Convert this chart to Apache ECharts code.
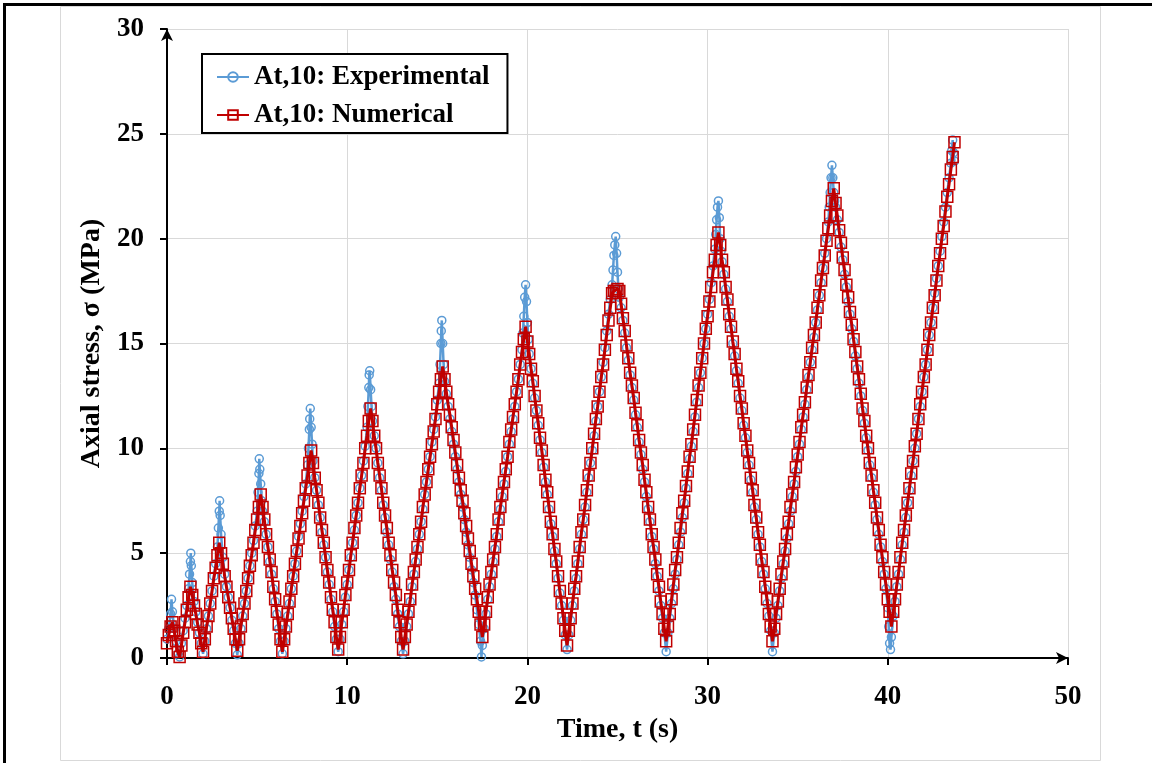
<!DOCTYPE html>
<html>
<head>
<meta charset="utf-8">
<script src="https://cdn.jsdelivr.net/npm/echarts@6/dist/echarts.min.js"></script>
<style>
html,body{margin:0;padding:0;background:#fff;}
#c{width:1152px;height:763px;}
</style>
</head>
<body>
<div id="c"></div>
<script>
const seriesNames = ['At,10: Experimental', 'At,10: Numerical'];
const xTitle = 'Time, t (s)';
const yTitle = 'Axial stress, σ (MPa)';

// [time (s), stress (MPa)]
const experimental = [
[0,0.9],[0.1,1.4],[0.2,2.1],[0.25,2.8],[0.3,2.2],[0.4,1.4],[0.5,0.8],[0.6,0.2],[0.7,0.05],
[0.8,0.7],[0.9,1.3],[1.0,1.9],[1.1,2.5],[1.2,3.3],[1.25,4.0],[1.3,4.6],[1.32,5.0],[1.35,4.4],[1.4,3.6],[1.5,2.7],[1.6,2.2],[1.7,1.7],[1.8,1.2],[1.9,0.7],[2.0,0.2],
[2.1,0.8],[2.2,1.4],[2.3,2.0],[2.4,2.6],[2.5,3.2],[2.6,3.9],[2.7,4.5],[2.8,5.3],[2.85,6.2],[2.9,7.0],[2.92,7.5],[2.95,6.8],[3.0,5.9],[3.1,4.8],[3.2,4.0],[3.3,3.4],[3.4,2.9],[3.5,2.4],[3.6,1.8],[3.7,1.3],[3.8,0.7],[3.9,0.15],
[4.0,0.7],[4.1,1.4],[4.2,2.0],[4.3,2.6],[4.4,3.2],[4.5,3.8],[4.6,4.4],[4.7,5.0],[4.8,5.6],[4.9,6.3],[5.0,7.0],[5.05,7.9],[5.1,8.8],[5.12,9.5],[5.15,9.0],[5.2,8.3],[5.25,7.5],[5.3,7.0],[5.4,6.5],[5.5,5.9],[5.6,5.3],[5.7,4.6],[5.8,4.0],[5.9,3.3],[6.0,2.7],[6.1,2.1],[6.2,1.4],[6.3,0.8],[6.4,0.2],
[6.5,0.8],[6.6,1.4],[6.7,2.0],[6.8,2.6],[6.9,3.3],[7.0,3.9],[7.1,4.5],[7.2,5.1],[7.3,5.8],[7.4,6.4],[7.5,7.0],[7.6,7.7],[7.7,8.3],[7.8,9.2],[7.85,10.0],[7.9,10.9],[7.92,11.4],[7.95,11.9],[8.0,11.0],[8.05,10.2],[8.1,9.4],[8.2,8.6],[8.3,8.0],[8.4,7.3],[8.5,6.7],[8.6,6.0],[8.7,5.4],[8.8,4.8],[8.9,4.1],[9.0,3.5],[9.1,2.8],[9.2,2.2],[9.3,1.5],[9.4,0.9],[9.5,0.3],
[9.6,0.9],[9.7,1.6],[9.8,2.2],[9.9,2.9],[10.0,3.5],[10.1,4.2],[10.2,4.8],[10.3,5.5],[10.4,6.1],[10.5,6.8],[10.6,7.4],[10.7,8.1],[10.8,8.7],[10.9,9.4],[11.0,10.1],[11.1,11.0],[11.15,12.0],[11.2,12.9],[11.22,13.5],[11.25,13.7],[11.3,12.8],[11.35,12.0],[11.4,11.3],[11.5,10.6],[11.6,10.0],[11.7,9.3],[11.8,8.6],[11.9,8.0],[12.0,7.3],[12.1,6.7],[12.2,6.0],[12.3,5.4],[12.4,4.7],[12.5,4.1],[12.6,3.4],[12.7,2.8],[12.8,2.1],[12.9,1.5],[13.0,0.8],[13.1,0.2],
[13.2,0.8],[13.3,1.5],[13.4,2.1],[13.5,2.7],[13.6,3.4],[13.7,4.0],[13.8,4.6],[13.9,5.2],[14.0,5.9],[14.1,6.5],[14.2,7.1],[14.3,7.8],[14.4,8.4],[14.5,9.0],[14.6,9.6],[14.7,10.3],[14.8,10.9],[14.9,11.5],[15.0,12.3],[15.1,13.1],[15.15,14.0],[15.2,15.0],[15.22,15.6],[15.25,16.1],[15.3,15.0],[15.35,14.0],[15.4,13.2],[15.5,12.6],[15.6,12.0],[15.7,11.4],[15.8,10.8],[15.9,10.2],[16.0,9.6],[16.1,9.0],[16.2,8.4],[16.3,7.8],[16.4,7.2],[16.5,6.6],[16.6,6.0],[16.7,5.4],[16.8,4.8],[16.9,4.2],[17.0,3.6],[17.1,3.0],[17.2,2.3],[17.3,1.6],[17.4,0.8],[17.45,0.05],[17.5,0.6],
[17.6,1.4],[17.7,2.1],[17.8,2.8],[17.9,3.4],[18.0,4.0],[18.1,4.6],[18.2,5.2],[18.3,5.8],[18.4,6.5],[18.5,7.1],[18.6,7.7],[18.7,8.3],[18.8,8.9],[18.9,9.6],[19.0,10.2],[19.1,10.8],[19.2,11.4],[19.3,12.0],[19.4,12.7],[19.5,13.3],[19.6,14.0],[19.7,14.7],[19.75,15.5],[19.8,16.3],[19.85,17.2],[19.9,17.8],[19.95,17.0],[20.0,16.0],[20.05,15.2],[20.1,14.5],[20.2,13.8],[20.3,13.1],[20.4,12.4],[20.5,11.8],[20.6,11.1],[20.7,10.4],[20.8,9.8],[20.9,9.1],[21.0,8.4],[21.1,7.8],[21.2,7.1],[21.3,6.4],[21.4,5.8],[21.5,5.1],[21.6,4.5],[21.7,3.8],[21.8,3.1],[21.9,2.5],[22.0,1.8],[22.1,1.1],[22.2,0.4],
[22.3,1.1],[22.4,1.8],[22.5,2.5],[22.6,3.2],[22.7,3.8],[22.8,4.5],[22.9,5.2],[23.0,5.9],[23.1,6.6],[23.2,7.2],[23.3,7.9],[23.4,8.6],[23.5,9.3],[23.6,9.9],[23.7,10.6],[23.8,11.3],[23.9,12.0],[24.0,12.7],[24.1,13.4],[24.2,14.1],[24.3,14.8],[24.4,15.6],[24.5,16.4],[24.6,17.1],[24.7,17.8],[24.75,18.5],[24.8,19.2],[24.85,19.7],[24.9,20.1],[24.95,19.3],[25.0,18.4],[25.05,17.6],[25.1,17.2],[25.2,16.7],[25.3,16.1],[25.4,15.5],[25.5,14.8],[25.6,14.2],[25.7,13.5],[25.8,12.9],[25.9,12.3],[26.0,11.6],[26.1,11.0],[26.2,10.3],[26.3,9.7],[26.4,9.0],[26.5,8.4],[26.6,7.7],[26.7,7.1],[26.8,6.5],[26.9,5.8],[27.0,5.2],[27.1,4.5],[27.2,3.9],[27.3,3.2],[27.4,2.5],[27.5,1.9],[27.6,1.2],[27.7,0.3],
[27.8,1.2],[27.9,1.9],[28.0,2.6],[28.1,3.3],[28.2,4.0],[28.3,4.7],[28.4,5.4],[28.5,6.0],[28.6,6.7],[28.7,7.4],[28.8,8.1],[28.9,8.8],[29.0,9.5],[29.1,10.1],[29.2,10.8],[29.3,11.5],[29.4,12.2],[29.5,12.9],[29.6,13.6],[29.7,14.3],[29.8,15.0],[29.9,15.7],[30.0,16.4],[30.1,17.1],[30.2,17.9],[30.3,18.7],[30.4,19.5],[30.45,20.2],[30.5,20.9],[30.55,21.5],[30.6,21.8],[30.65,21.0],[30.7,20.0],[30.75,19.4],[30.8,18.9],[30.9,18.3],[31.0,17.6],[31.1,17.0],[31.2,16.3],[31.3,15.7],[31.4,15.0],[31.5,14.4],[31.6,13.7],[31.7,13.1],[31.8,12.4],[31.9,11.8],[32.0,11.1],[32.1,10.5],[32.2,9.8],[32.3,9.2],[32.4,8.5],[32.5,7.9],[32.6,7.2],[32.7,6.6],[32.8,5.9],[32.9,5.3],[33.0,4.6],[33.1,4.0],[33.2,3.3],[33.3,2.6],[33.4,2.0],[33.5,1.3],[33.6,0.3],
[33.7,1.2],[33.8,1.9],[33.9,2.5],[34.0,3.2],[34.1,3.8],[34.2,4.5],[34.3,5.1],[34.4,5.7],[34.5,6.4],[34.6,7.0],[34.7,7.7],[34.8,8.3],[34.9,8.9],[35.0,9.6],[35.1,10.2],[35.2,10.9],[35.3,11.5],[35.4,12.1],[35.5,12.8],[35.6,13.4],[35.7,14.1],[35.8,14.7],[35.9,15.3],[36.0,16.0],[36.1,16.6],[36.2,17.3],[36.3,17.9],[36.4,18.6],[36.5,19.3],[36.6,20.0],[36.7,20.8],[36.75,21.5],[36.8,22.2],[36.85,22.9],[36.9,23.5],[36.95,22.9],[37.0,22.2],[37.05,21.8],[37.1,21.5],[37.2,20.9],[37.3,20.3],[37.4,19.6],[37.5,19.0],[37.6,18.3],[37.7,17.7],[37.8,17.0],[37.9,16.4],[38.0,15.7],[38.1,15.1],[38.2,14.4],[38.3,13.8],[38.4,13.1],[38.5,12.5],[38.6,11.8],[38.7,11.2],[38.8,10.5],[38.9,9.9],[39.0,9.2],[39.1,8.6],[39.2,7.9],[39.3,7.3],[39.4,6.6],[39.5,5.9],[39.6,5.3],[39.7,4.6],[39.8,4.0],[39.9,3.3],[40.0,2.4],[40.05,1.5],[40.1,0.7],[40.15,0.4],[40.2,1.0],
[40.3,2.0],[40.4,2.7],[40.5,3.4],[40.6,4.0],[40.7,4.7],[40.8,5.4],[40.9,6.0],[41.0,6.7],[41.1,7.4],[41.2,8.0],[41.3,8.7],[41.4,9.4],[41.5,10.0],[41.6,10.7],[41.7,11.4],[41.8,12.0],[41.9,12.7],[42.0,13.4],[42.1,14.0],[42.2,14.7],[42.3,15.4],[42.4,16.0],[42.5,16.7],[42.6,17.4],[42.7,18.1],[42.8,18.7],[42.9,19.4],[43.0,20.1],[43.1,20.8],[43.2,21.5],[43.3,22.2],[43.4,22.9],[43.5,23.6],[43.55,24.2],[43.6,24.7],[43.65,24.1],[43.7,23.7]
];

const numerical = [
[0.0,0.7],[0.1,1.1],[0.2,1.5],[0.3,1.7],
[0.4,1.3],[0.5,0.8],[0.6,0.3],[0.7,0.05],
[0.8,0.6],[0.9,1.2],[1.0,1.7],[1.1,2.3],[1.2,2.9],[1.3,3.4],
[1.4,3.0],[1.5,2.5],[1.6,2.1],[1.7,1.6],[1.8,1.2],[1.9,0.7],[2.0,0.3],
[2.1,0.9],[2.2,1.5],[2.3,2.0],[2.4,2.6],[2.5,3.2],[2.6,3.8],[2.7,4.3],[2.8,4.9],[2.9,5.5],
[3.0,5.0],[3.1,4.5],[3.2,3.9],[3.3,3.4],[3.4,2.9],[3.5,2.4],[3.6,1.9],[3.7,1.4],[3.8,0.9],[3.9,0.35],
[4.0,0.9],[4.1,1.5],[4.2,2.1],[4.3,2.6],[4.4,3.2],[4.5,3.8],[4.6,4.4],[4.7,4.9],[4.8,5.5],[4.9,6.1],[5.0,6.6],[5.1,7.2],[5.2,7.8],
[5.3,7.2],[5.4,6.6],[5.5,5.9],[5.6,5.3],[5.7,4.7],[5.8,4.1],[5.9,3.4],[6.0,2.8],[6.1,2.2],[6.2,1.6],[6.3,0.9],[6.4,0.3],
[6.5,0.9],[6.6,1.5],[6.7,2.1],[6.8,2.7],[6.9,3.3],[7.0,3.9],[7.1,4.5],[7.2,5.1],[7.3,5.7],[7.4,6.3],[7.5,6.9],[7.6,7.5],[7.7,8.1],[7.8,8.7],[7.9,9.3],[8.0,9.9],
[8.1,9.3],[8.2,8.6],[8.3,8.0],[8.4,7.4],[8.5,6.7],[8.6,6.1],[8.7,5.5],[8.8,4.8],[8.9,4.2],[9.0,3.6],[9.1,2.9],[9.2,2.3],[9.3,1.7],[9.4,1.0],[9.5,0.4],
[9.6,1.0],[9.7,1.7],[9.8,2.3],[9.9,3.0],[10.0,3.6],[10.1,4.2],[10.2,4.9],[10.3,5.5],[10.4,6.2],[10.5,6.8],[10.6,7.4],[10.7,8.1],[10.8,8.7],[10.9,9.3],[11.0,10.0],[11.1,10.6],[11.2,11.3],[11.3,11.9],
[11.4,11.3],[11.5,10.6],[11.6,10.0],[11.7,9.3],[11.8,8.7],[11.9,8.1],[12.0,7.4],[12.1,6.8],[12.2,6.2],[12.3,5.5],[12.4,4.9],[12.5,4.2],[12.6,3.6],[12.7,3.0],[12.8,2.3],[12.9,1.7],[13.0,1.0],[13.1,0.4],
[13.2,1.0],[13.3,1.6],[13.4,2.2],[13.5,2.8],[13.6,3.5],[13.7,4.1],[13.8,4.7],[13.9,5.3],[14.0,5.9],[14.1,6.5],[14.2,7.2],[14.3,7.8],[14.4,8.4],[14.5,9.0],[14.6,9.6],[14.7,10.2],[14.8,10.8],[14.9,11.4],[15.0,12.1],[15.1,12.7],[15.2,13.3],[15.3,13.9],
[15.4,13.3],[15.5,12.7],[15.6,12.1],[15.7,11.6],[15.8,11.0],[15.9,10.4],[16.0,9.8],[16.1,9.2],[16.2,8.6],[16.3,8.0],[16.4,7.5],[16.5,6.9],[16.6,6.3],[16.7,5.7],[16.8,5.1],[16.9,4.5],[17.0,3.9],[17.1,3.3],[17.2,2.8],[17.3,2.2],[17.4,1.6],[17.5,1.0],
[17.6,1.6],[17.7,2.2],[17.8,2.9],[17.9,3.5],[18.0,4.1],[18.1,4.7],[18.2,5.3],[18.3,5.9],[18.4,6.6],[18.5,7.2],[18.6,7.8],[18.7,8.4],[18.8,9.0],[18.9,9.6],[19.0,10.3],[19.1,10.9],[19.2,11.5],[19.3,12.1],[19.4,12.7],[19.5,13.3],[19.6,14.0],[19.7,14.6],[19.8,15.2],[19.9,15.8],
[20.0,15.1],[20.1,14.5],[20.2,13.8],[20.3,13.2],[20.4,12.5],[20.5,11.8],[20.6,11.2],[20.7,10.5],[20.8,9.9],[20.9,9.2],[21.0,8.5],[21.1,7.9],[21.2,7.2],[21.3,6.5],[21.4,5.9],[21.5,5.2],[21.6,4.6],[21.7,3.9],[21.8,3.2],[21.9,2.6],[22.0,1.9],[22.1,1.3],[22.2,0.6],
[22.3,1.3],[22.4,1.9],[22.5,2.6],[22.6,3.3],[22.7,3.9],[22.8,4.6],[22.9,5.3],[23.0,6.0],[23.1,6.6],[23.2,7.3],[23.3,8.0],[23.4,8.7],[23.5,9.3],[23.6,10.0],[23.7,10.7],[23.8,11.4],[23.9,12.0],[24.0,12.7],[24.1,13.4],[24.2,14.0],[24.3,14.7],[24.4,15.4],[24.5,16.1],[24.6,16.7],[24.7,17.4],
[24.8,17.5],[24.9,17.5],[25.0,17.6],[25.1,17.5],
[25.2,16.9],[25.3,16.2],[25.4,15.6],[25.5,14.9],[25.6,14.3],[25.7,13.6],[25.8,13.0],[25.9,12.4],[26.0,11.7],[26.1,11.1],[26.2,10.4],[26.3,9.8],[26.4,9.2],[26.5,8.5],[26.6,7.9],[26.7,7.2],[26.8,6.6],[26.9,5.9],[27.0,5.3],[27.1,4.7],[27.2,4.0],[27.3,3.4],[27.4,2.7],[27.5,2.1],[27.6,1.4],[27.7,0.8],
[27.8,1.5],[27.9,2.1],[28.0,2.8],[28.1,3.5],[28.2,4.2],[28.3,4.8],[28.4,5.5],[28.5,6.2],[28.6,6.9],[28.7,7.5],[28.8,8.2],[28.9,8.9],[29.0,9.6],[29.1,10.2],[29.2,10.9],[29.3,11.6],[29.4,12.3],[29.5,13.0],[29.6,13.6],[29.7,14.3],[29.8,15.0],[29.9,15.7],[30.0,16.3],[30.1,17.0],[30.2,17.7],[30.3,18.4],[30.4,19.0],[30.5,19.7],[30.6,20.3],
[30.7,19.7],[30.8,19.0],[30.9,18.4],[31.0,17.7],[31.1,17.1],[31.2,16.4],[31.3,15.8],[31.4,15.1],[31.5,14.5],[31.6,13.8],[31.7,13.2],[31.8,12.5],[31.9,11.9],[32.0,11.2],[32.1,10.6],[32.2,9.9],[32.3,9.3],[32.4,8.6],[32.5,8.0],[32.6,7.3],[32.7,6.7],[32.8,6.0],[32.9,5.4],[33.0,4.7],[33.1,4.1],[33.2,3.4],[33.3,2.8],[33.4,2.1],[33.5,1.5],[33.6,0.8],
[33.7,1.4],[33.8,2.1],[33.9,2.7],[34.0,3.3],[34.1,4.0],[34.2,4.6],[34.3,5.2],[34.4,5.9],[34.5,6.5],[34.6,7.2],[34.7,7.8],[34.8,8.4],[34.9,9.1],[35.0,9.7],[35.1,10.3],[35.2,11.0],[35.3,11.6],[35.4,12.2],[35.5,12.9],[35.6,13.5],[35.7,14.1],[35.8,14.8],[35.9,15.4],[36.0,16.0],[36.1,16.7],[36.2,17.3],[36.3,18.0],[36.4,18.6],[36.5,19.2],[36.6,19.9],[36.7,20.5],[36.8,21.1],[36.9,21.8],[37.0,22.4],
[37.1,21.7],[37.2,21.1],[37.3,20.4],[37.4,19.8],[37.5,19.1],[37.6,18.5],[37.7,17.8],[37.8,17.2],[37.9,16.5],[38.0,15.9],[38.1,15.2],[38.2,14.6],[38.3,13.9],[38.4,13.3],[38.5,12.6],[38.6,11.9],[38.7,11.3],[38.8,10.6],[38.9,10.0],[39.0,9.3],[39.1,8.7],[39.2,8.0],[39.3,7.4],[39.4,6.7],[39.5,6.1],[39.6,5.4],[39.7,4.8],[39.8,4.1],[39.9,3.5],[40.0,2.8],[40.1,2.2],[40.2,1.5],
[40.3,2.2],[40.4,2.8],[40.5,3.5],[40.6,4.1],[40.7,4.8],[40.8,5.5],[40.9,6.1],[41.0,6.8],[41.1,7.4],[41.2,8.1],[41.3,8.8],[41.4,9.4],[41.5,10.1],[41.6,10.7],[41.7,11.4],[41.8,12.1],[41.9,12.7],[42.0,13.4],[42.1,14.0],[42.2,14.7],[42.3,15.4],[42.4,16.0],[42.5,16.7],[42.6,17.3],[42.7,18.0],[42.8,18.7],[42.9,19.3],[43.0,20.0],[43.1,20.6],[43.2,21.3],[43.3,22.0],[43.4,22.6],[43.5,23.3],[43.6,23.9],[43.7,24.6]
];

const FONT = "'Liberation Serif', 'Times New Roman', serif";
const chart = echarts.init(document.getElementById('c'), null, {renderer: 'canvas'});

function axisCommon() {
  return {
    type: 'value',
    axisLine: {show: true, onZero: false, symbol: ['none', 'arrow'], symbolSize: [9, 12],
      lineStyle: {color: '#000', width: 2}},
    axisTick: {show: true, inside: false, length: 7, lineStyle: {color: '#000', width: 2}},
    axisLabel: {color: '#000', fontFamily: FONT, fontWeight: 'bold', fontSize: 27},
    splitLine: {show: true, lineStyle: {color: '#d9d9d9', width: 1}},
    nameLocation: 'middle',
    nameTextStyle: {color: '#000', fontFamily: FONT, fontWeight: 'bold', fontSize: 28}
  };
}

const xAxis = Object.assign(axisCommon(), {min: 0, max: 50, interval: 10, name: xTitle, nameGap: 58});
xAxis.axisLabel.margin = 26;
const yAxis = Object.assign(axisCommon(), {min: 0, max: 30, interval: 5, name: yTitle, nameGap: 58});
yAxis.axisLabel.margin = 23;

chart.setOption({
  animation: false,
  backgroundColor: '#fff',
  grid: {left: 167, right: 84, top: 29, bottom: 105, containLabel: false},
  graphic: [
    {type: 'rect', z: -10, shape: {x: 60.5, y: 6.5, width: 1040, height: 754},
      style: {fill: 'none', stroke: '#d9d9d9', lineWidth: 1}},
    {type: 'line', z: 100, shape: {x1: 3, y1: 4.5, x2: 1152, y2: 4.5}, style: {stroke: '#000', lineWidth: 3}},
    {type: 'line', z: 100, shape: {x1: 4.5, y1: 3, x2: 4.5, y2: 763}, style: {stroke: '#000', lineWidth: 3}}
  ],
  legend: {
    left: 202, top: 54, orient: 'vertical',
    backgroundColor: '#fff',
    borderColor: '#000', borderWidth: 2, borderRadius: 0,
    padding: [8, 18, 3, 14],
    itemGap: 8, itemWidth: 32, itemHeight: 12,
    textStyle: {color: '#000', fontFamily: FONT, fontWeight: 'bold', fontSize: 27, lineHeight: 30},
    data: seriesNames
  },
  xAxis: xAxis,
  yAxis: yAxis,
  series: [
    {
      name: seriesNames[0], type: 'line', data: experimental, z: 2,
      symbol: 'circle', symbolSize: 8, showAllSymbol: true,
      lineStyle: {color: '#5B9BD5', width: 2.5},
      itemStyle: {color: 'rgba(255,255,255,0)', borderColor: '#5B9BD5', borderWidth: 1.5}
    },
    {
      name: seriesNames[1], type: 'line', data: numerical, z: 3,
      symbol: 'rect', symbolSize: 11, showAllSymbol: true,
      lineStyle: {color: '#C00000', width: 3},
      itemStyle: {color: 'rgba(255,255,255,0)', borderColor: '#C00000', borderWidth: 1.5}
    }
  ]
});
</script>
</body>
</html>
